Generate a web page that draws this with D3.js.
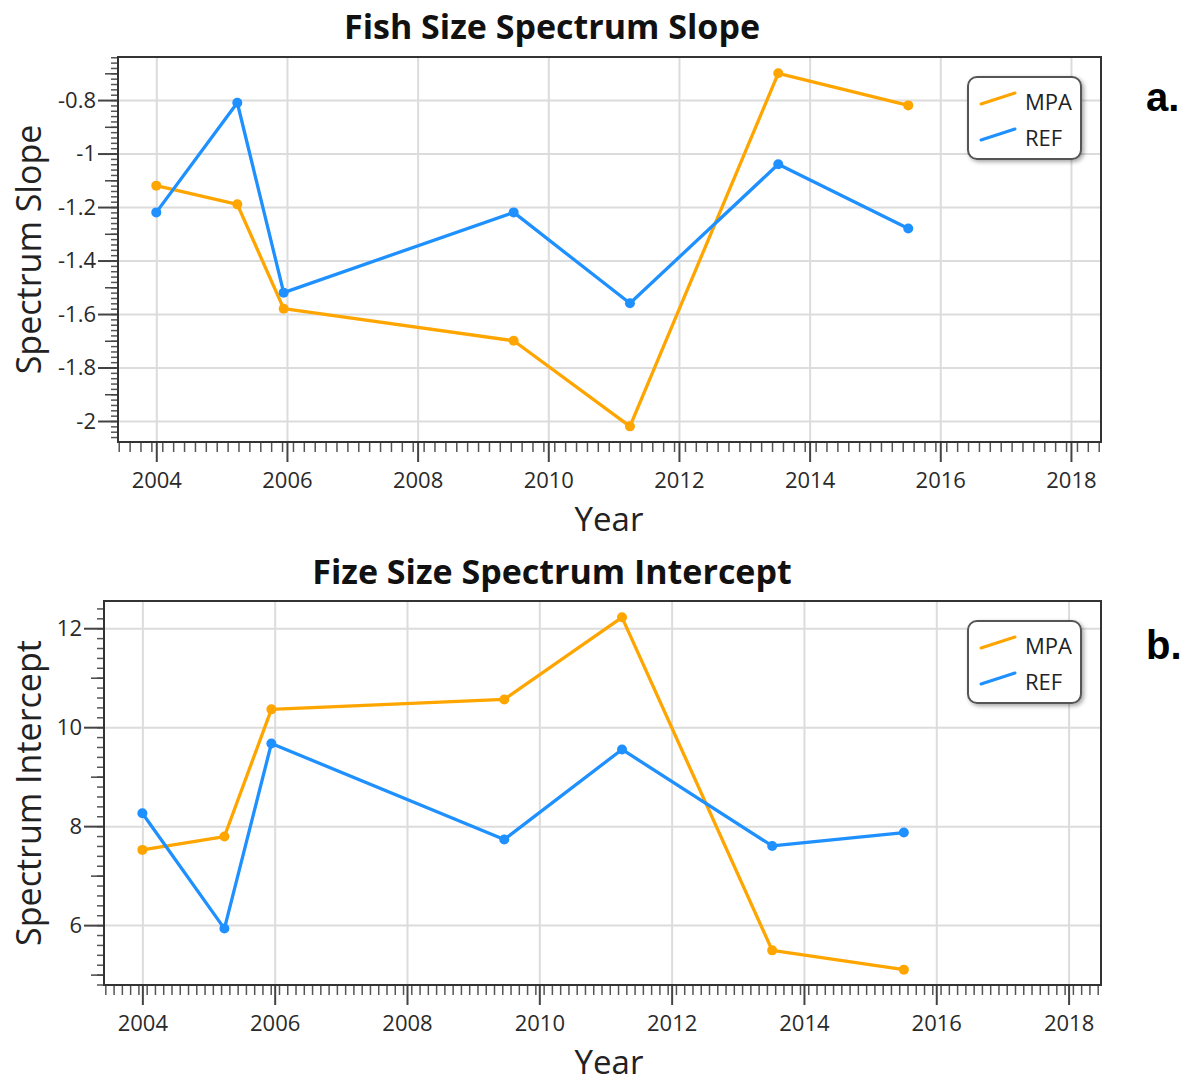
<!DOCTYPE html>
<html>
<head>
<meta charset="utf-8">
<script src="https://cdn.jsdelivr.net/npm/d3@7/dist/d3.min.js"></script>
<style>
  body { margin: 0; background: #fff; }
  svg { display: block; }
  text { font-family: "Open Sans", "Noto Sans", sans-serif; }
</style>
</head>
<body>
<script>
// sampling years (both panels share them)
var years = [2004.0, 2005.24, 2005.95, 2009.47, 2011.25, 2013.52, 2015.51];

var slopeMPA = [-1.12, -1.19, -1.58, -1.70, -2.02, -0.70, -0.82];
var slopeREF = [-1.22, -0.81, -1.52, -1.22, -1.56, -1.04, -1.28];

var interceptMPA = [7.52, 7.79, 10.36, 10.56, 12.22, 5.49, 5.10];
var interceptREF = [8.26, 5.93, 9.67, 7.73, 9.55, 7.60, 7.87];

var seriesNames = ["MPA", "REF"];
var seriesColors = ["#ffa500", "#1e90ff"];

var xTickYears = [2004, 2006, 2008, 2010, 2012, 2014, 2016, 2018];
var slopeTicks = [-2, -1.8, -1.6, -1.4, -1.2, -1, -0.8];
var interceptTicks = [6, 8, 10, 12];

var svgWidth = 1189, svgHeight = 1084;

var svg = d3.select("body").append("svg")
  .attr("width", svgWidth)
  .attr("height", svgHeight);

var defs = svg.append("defs");
defs.append("filter")
  .attr("id", "legendShadow")
  .attr("x", "-20%").attr("y", "-20%")
  .attr("width", "150%").attr("height", "150%")
  .append("feDropShadow")
  .attr("dx", 2).attr("dy", 2)
  .attr("stdDeviation", 2)
  .attr("flood-color", "#000")
  .attr("flood-opacity", 0.35);

function fmtTick(d) {
  // plain hyphen like the original, no trailing zeros
  return String(+d.toFixed(1));
}

function rangeIn(start, stop, step, skip) {
  var out = [];
  for (var v = start; v <= stop + 1e-9; v += step) {
    var r = Math.round(v * 1000) / 1000;
    if (skip && skip(r)) continue;
    out.push(r);
  }
  return out;
}

function drawPanel(p) {
  var x = d3.scaleLinear().domain(p.xDomain).range([p.left, p.right]);
  var y = d3.scaleLinear().domain(p.yDomain).range([p.bottom, p.top]);
  var g = svg.append("g");

  // grid
  g.append("g")
    .attr("transform", `translate(0,${p.bottom})`)
    .call(d3.axisBottom(x).tickValues(xTickYears).tickSize(-(p.bottom - p.top)).tickFormat(""))
    .call(function(a) { a.select(".domain").remove(); })
    .selectAll("line").attr("stroke", "#dcdcdc").attr("stroke-width", 2);

  g.append("g")
    .attr("transform", `translate(${p.left},0)`)
    .call(d3.axisLeft(y).tickValues(p.yTicks).tickSize(-(p.right - p.left)).tickFormat(""))
    .call(function(a) { a.select(".domain").remove(); })
    .selectAll("line").attr("stroke", "#dcdcdc").attr("stroke-width", 2);

  // minor ticks, y
  var yMinor = rangeIn(p.yMinorStart, p.yDomain[1], p.yMinorStep);
  g.append("g")
    .attr("transform", `translate(${p.left},0)`)
    .call(d3.axisLeft(y).tickValues(yMinor).tickSize(7).tickFormat(""))
    .call(function(a) { a.select(".domain").remove(); })
    .selectAll("line").attr("stroke", "#555").attr("stroke-width", 1.5);

  g.append("g")
    .attr("transform", `translate(${p.left},0)`)
    .call(d3.axisLeft(y).tickValues(p.yMid).tickSize(13).tickFormat(""))
    .call(function(a) { a.select(".domain").remove(); })
    .selectAll("line").attr("stroke", "#444").attr("stroke-width", 1.5);

  // minor ticks, x
  var xMinor = rangeIn(p.xMinorStart, p.xDomain[1], p.xMinorStep);
  g.append("g")
    .attr("transform", `translate(0,${p.bottom})`)
    .call(d3.axisBottom(x).tickValues(xMinor).tickSize(10).tickFormat(""))
    .call(function(a) { a.select(".domain").remove(); })
    .selectAll("line").attr("stroke", "#555").attr("stroke-width", 1.5);

  // major axes
  var yAxis = g.append("g")
    .attr("transform", `translate(${p.left},0)`)
    .call(d3.axisLeft(y).tickValues(p.yTicks).tickSize(20).tickSizeOuter(0).tickPadding(2).tickFormat(fmtTick));
  var xAxis = g.append("g")
    .attr("transform", `translate(0,${p.bottom})`)
    .call(d3.axisBottom(x).tickValues(xTickYears).tickSize(20).tickSizeOuter(0).tickPadding(10).tickFormat(d3.format("d")));

  [yAxis, xAxis].forEach(function(a) {
    a.select(".domain").remove();
    a.selectAll("line").attr("stroke", "#444").attr("stroke-width", 2);
    a.selectAll("text")
      .attr("fill", "#2a2a2a")
      .style("font-size", "22px")
      .style("font-family", "'Open Sans', sans-serif");
  });

  // frame
  g.append("rect")
    .attr("x", p.left).attr("y", p.top)
    .attr("width", p.right - p.left)
    .attr("height", p.bottom - p.top)
    .attr("fill", "none")
    .attr("stroke", "#333")
    .attr("stroke-width", 2);

  // series
  var line = d3.line()
    .x(function(d) { return x(d[0]); })
    .y(function(d) { return y(d[1]); });

  p.series.forEach(function(vals, i) {
    var pts = years.map(function(yr, k) { return [yr, vals[k]]; });
    g.append("path")
      .datum(pts)
      .attr("d", line)
      .attr("fill", "none")
      .attr("stroke", seriesColors[i])
      .attr("stroke-width", 3.3)
      .attr("stroke-linejoin", "round");
    g.selectAll(".pt" + i)
      .data(pts)
      .enter()
      .append("circle")
      .attr("class", "pt" + i)
      .attr("cx", function(d) { return x(d[0]); })
      .attr("cy", function(d) { return y(d[1]); })
      .attr("r", 5)
      .attr("fill", seriesColors[i]);
  });

  // titles
  g.append("text")
    .attr("x", 552).attr("y", p.titleY)
    .attr("text-anchor", "middle")
    .style("font-size", "34px")
    .style("font-weight", "bold")
    .attr("fill", "#111")
    .text(p.title);

  g.append("text")
    .attr("x", 609).attr("y", p.bottom + 89)
    .attr("text-anchor", "middle")
    .style("font-size", "33px")
    .attr("fill", "#222")
    .text("Year");

  g.append("text")
    .attr("transform", `translate(41,${(p.top + p.bottom) / 2})rotate(-90)`)
    .attr("text-anchor", "middle")
    .style("font-size", "34px")
    .attr("fill", "#222")
    .text(p.yLabel);

  // legend
  var lx = p.right - 133, ly = p.top + 20;
  var leg = g.append("g").attr("transform", `translate(${lx},${ly})`);
  leg.append("rect")
    .attr("width", 113).attr("height", 82)
    .attr("rx", 9).attr("ry", 9)
    .attr("fill", "#fff")
    .attr("stroke", "#555")
    .attr("stroke-width", 2)
    .attr("filter", "url(#legendShadow)");
  seriesNames.forEach(function(name, i) {
    var yy = 33 + i * 36;
    leg.append("line")
      .attr("x1", 13).attr("y1", yy - 6)
      .attr("x2", 47).attr("y2", yy - 17)
      .attr("stroke", seriesColors[i])
      .attr("stroke-width", 3)
      .attr("stroke-linecap", "round");
    leg.append("text")
      .attr("x", 57).attr("y", yy)
      .style("font-size", "22px")
      .attr("fill", "#222")
      .text(name);
  });

  // panel letter
  svg.append("text")
    .attr("x", 1146).attr("y", p.letterY)
    .style("font-family", "'Liberation Sans', Arial, sans-serif")
    .style("font-size", "40px")
    .style("font-weight", "bold")
    .attr("fill", "#000")
    .text(p.letter);
}

drawPanel({
  left: 118, right: 1101, top: 57, bottom: 442,
  xDomain: [2003.414, 2018.46],
  yDomain: [-2.0785, -0.639],
  yTicks: slopeTicks,
  yMid: [-1.9, -1.7, -1.5, -1.3, -1.1, -0.9, -0.7],
  yMinorStart: -2.06, yMinorStep: 0.02,
  xMinorStart: 2003.425, xMinorStep: 1 / 6,
  series: [slopeMPA, slopeREF],
  title: "Fish Size Spectrum Slope", titleY: 39,
  yLabel: "Spectrum Slope",
  letter: "a.", letterY: 111
});

drawPanel({
  left: 104, right: 1101, top: 601, bottom: 985,
  xDomain: [2003.42, 2018.49],
  yDomain: [4.79, 12.55],
  yTicks: interceptTicks,
  yMid: [5, 7, 9, 11],
  yMinorStart: 4.8, yMinorStep: 0.2,
  xMinorStart: 2003.44, xMinorStep: 1 / 8,
  series: [interceptMPA, interceptREF],
  title: "Fize Size Spectrum Intercept", titleY: 584,
  yLabel: "Spectrum Intercept",
  letter: "b.", letterY: 659
});
</script>
</body>
</html>
